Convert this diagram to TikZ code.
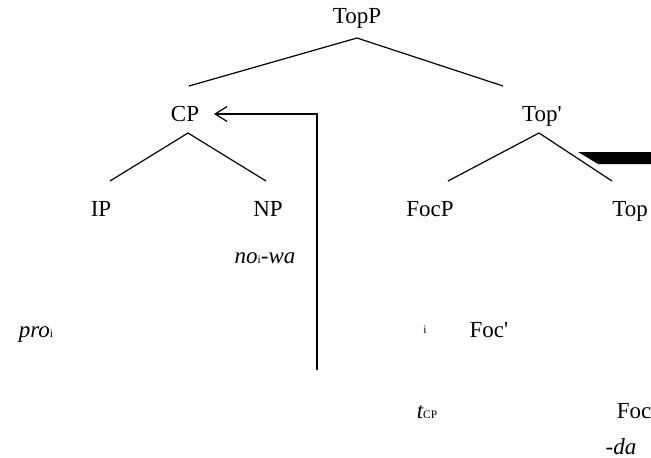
\documentclass[tikz,border=0pt]{standalone}
\usepackage{fontspec}
\setmainfont{Liberation Serif}[Ligatures=TeXOff]
\usetikzlibrary{arrows.meta}
\tikzset{
  lbl/.style={anchor=base, inner sep=0pt, font=\fontsize{23}{27}\selectfont},
  branch/.style={line width=1.2pt},
  mover/.style={line width=1.4pt, -{Straight Barb[length=12pt,width=15pt,line width=1.2pt]}},
}
\newcommand{\sbs}[1]{{\fontsize{11.5}{11.5}\selectfont\upshape #1}}
\begin{document}
\begin{tikzpicture}[x=1pt,y=-1pt]
\useasboundingbox (0,0) rectangle (651,458);
% labels
\node[lbl] (topp) at (357,23) {TopP};
\node[lbl] (cp) at (185,121) {CP};
\node[lbl] (topbar) at (542,121) {Top'};
\node[lbl] (ip) at (101,216) {IP};
\node[lbl] (np) at (268,216) {NP};
\node[lbl] (focp) at (430,216) {FocP};
\node[lbl] (top) at (630,216) {Top};
\node[lbl] (nowa) at (265,263) {\itshape no\sbs{i}-wa};
\node[lbl] (pro) at (36,337) {\itshape pro\sbs{i}};
\node[lbl] (idx) at (425,333) {\sbs{i}};
\node[lbl] (focbar) at (489,337) {Foc'};
\node[lbl] (tcp) at (427,418) {\itshape t\sbs{CP}};
\node[lbl] (foc) at (634,418) {Foc};
\node[lbl, text depth=0pt] (da) at (621,454) {\itshape -da};
% branch points
\coordinate (a0) at (357,38);
\coordinate (a0l) at (189,86);
\coordinate (a0r) at (503,86);
\coordinate (a1) at (188,133);
\coordinate (a1l) at (110,181);
\coordinate (a1r) at (266,181);
\coordinate (a2) at (539,133);
\coordinate (a2l) at (448,181);
\coordinate (a2r) at (612,181);
\draw[branch] (a0l) -- (a0) -- (a0r);
\draw[branch] (a1l) -- (a1) -- (a1r);
\draw[branch] (a2l) -- (a2) -- (a2r);
% black bar
\fill[black] (578,152) -- (651,152) -- (651,164) -- (598,164) -- cycle;
% movement arrow
\coordinate (mvbot) at (317,370);
\coordinate (mvtop) at (317,114);
\coordinate (mvtip) at (214,114);
\draw[mover] (mvbot) -- (mvtop) -- (mvtip);
\end{tikzpicture}
\end{document}
